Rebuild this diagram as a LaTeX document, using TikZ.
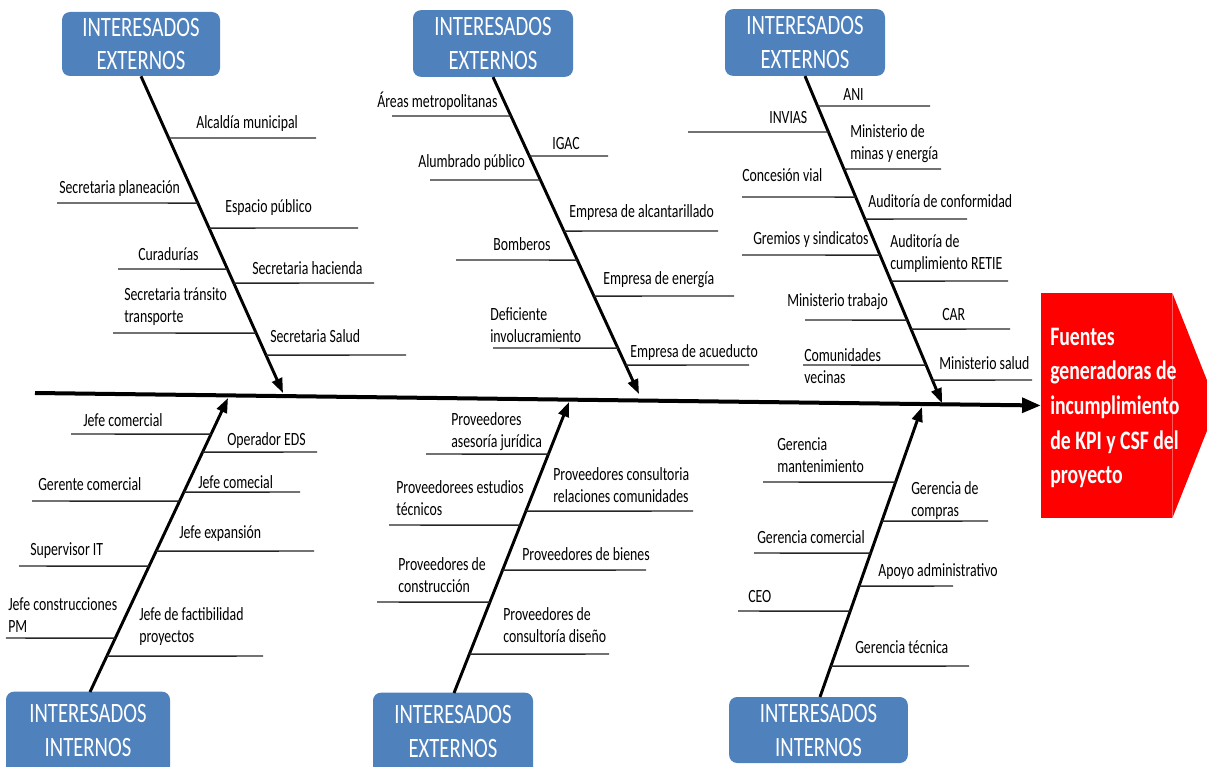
\documentclass[tikz,border=0pt]{standalone}
\usepackage{fontspec}
\setmainfont{Carlito}[FakeStretch=0.74]
\usetikzlibrary{arrows.meta}
\definecolor{boxblue}{HTML}{4F81BD}
\definecolor{headred}{HTML}{FF0000}
\tikzset{
  stake/.style={fill=boxblue, rounded corners=6pt, text=white, align=center,
    font=\fontsize{21}{25}\selectfont, inner sep=0pt},
  spine/.style={line width=3pt, -{Triangle[length=14pt,width=11pt]}},
  bone/.style={line width=2.2pt, -{Triangle[length=11pt,width=8pt]}},
  sub/.style={line width=1.1pt, black!85},
  lab/.style={font=\fontsize{14}{16.5}\selectfont, align=left, inner sep=0pt, anchor=west},
  headtxt/.style={font=\bfseries\fontsize{20}{26}\selectfont, text=white, align=left,
    inner sep=0pt, anchor=west}
}
% sub-bone: #1 = bone start, #2 = bone end, #3 = height, #4 = free end x
\newcommand{\twig}[4]{\draw[sub] (#4,#3) -- (intersection of #1--#2 and 0,#3--1,#3);}
\begin{document}
\begin{tikzpicture}[x=0.75pt, y=-0.75pt]
\useasboundingbox (0,0) rectangle (1207,767);
\clip (0,0) rectangle (1207,767);

% effect box
\node (head) [fill=headred, minimum width=98.25pt, minimum height=168.75pt, inner sep=0pt]
  at (1106.5,405.5) {};
\fill[headred] (head.north east) -- (1217,405.5) -- (head.south east) -- cycle;
\node (headlabel) [headtxt] at (1050,408)
  {Fuentes\\generadoras de\\incumplimiento\\de KPI y CSF del\\proyecto};

% category boxes
\node (tl) [stake, minimum width=118.5pt, minimum height=48pt] at (141,44) {INTERESADOS\\EXTERNOS};
\node (tm) [stake, minimum width=120pt, minimum height=50pt] at (493,43.5) {INTERESADOS\\EXTERNOS};
\node (tr) [stake, minimum width=120pt, minimum height=50pt] at (805,42.5) {INTERESADOS\\EXTERNOS};
\node (bl) [stake, minimum width=123pt, minimum height=62pt, text depth=0pt] at (88,733) {};
\node (bm) [stake, minimum width=120pt, minimum height=62pt] at (453,734) {};
\node (br) [stake, minimum width=134pt, minimum height=49.5pt] at (818.5,730) {};
\node (bltext) [stake, fill=none] at (88,730.5) {INTERESADOS\\INTERNOS};
\node (bmtext) [stake, fill=none] at (453,731.5) {INTERESADOS\\EXTERNOS};
\node (brtext) [stake, fill=none] at (818.5,730.5) {INTERESADOS\\INTERNOS};

% spine
\coordinate (tail) at (35,393);
\draw[spine] (tail) -- (head.west);

% bone ends on the spine
\coordinate (t1) at (283,393);
\coordinate (t2) at (639,394);
\coordinate (t3) at (942,403);
\coordinate (b1) at (228,398);
\coordinate (b2) at (569,402);
\coordinate (b3) at (922,407);
\coordinate (tl0) at (tl.south);
\coordinate (tm0) at (tm.south);
\coordinate (tr0) at (tr.south);
\coordinate (bl0) at (90,692);
\coordinate (bm0) at (454,693);
\coordinate (br0) at (820,697);

\draw[bone] (tl0) -- (t1);
\draw[bone] (tm0) -- (t2);
\draw[bone] (tr0) -- (t3);
\draw[bone] (bl0) -- (b1);
\draw[bone] (bm0) -- (b2);
\draw[bone] (br0) -- (b3);

% upper left branch
\twig{tl0}{t1}{138}{316}
\twig{tl0}{t1}{203}{57}
\twig{tl0}{t1}{228}{358}
\twig{tl0}{t1}{269}{118}
\twig{tl0}{t1}{283}{374}
\twig{tl0}{t1}{333}{113}
\twig{tl0}{t1}{355}{406}
\node[lab] at (196,124) {Alcaldía municipal};
\node[lab] at (59,189) {Secretaria planeación};
\node[lab] at (225,208) {Espacio público};
\node[lab] at (138,254) {Curadurías};
\node[lab] at (252,268) {Secretaria hacienda};
\node[lab] at (124,306.5) {Secretaria tránsito\\transporte};
\node[lab] at (270,336) {Secretaria Salud};

% upper middle branch
\twig{tm0}{t2}{116}{392}
\twig{tm0}{t2}{156}{608}
\twig{tm0}{t2}{180}{430}
\twig{tm0}{t2}{231}{718}
\twig{tm0}{t2}{260}{456}
\twig{tm0}{t2}{296}{734}
\twig{tm0}{t2}{348}{493}
\twig{tm0}{t2}{365}{749}
\node[lab] at (377,101) {Áreas metropolitanas};
\node[lab] at (552,144) {IGAC};
\node[lab] at (418,163) {Alumbrado público};
\node[lab] at (569,213) {Empresa de alcantarillado};
\node[lab] at (493,244) {Bomberos};
\node[lab] at (603,280) {Empresa de energía};
\node[lab] at (490,325) {Deficiente\\involucramiento};
\node[lab] at (630,353) {Empresa de acueducto};

% upper right branch
\twig{tr0}{t3}{106}{930}
\twig{tr0}{t3}{132}{688}
\twig{tr0}{t3}{169}{941}
\twig{tr0}{t3}{197}{742}
\twig{tr0}{t3}{219}{967}
\twig{tr0}{t3}{255}{742}
\twig{tr0}{t3}{281}{1008}
\twig{tr0}{t3}{320}{805}
\twig{tr0}{t3}{329}{1010}
\twig{tr0}{t3}{365}{803}
\twig{tr0}{t3}{380}{1032}
\node[lab] at (843,95) {ANI};
\node[lab] at (769,118) {INVIAS};
\node[lab] at (850,143.5) {Ministerio de\\minas y energía};
\node[lab] at (742,175) {Concesión vial};
\node[lab] at (868,201) {Auditoría de conformidad};
\node[lab] at (753,240) {Gremios y sindicatos};
\node[lab] at (890,253.5) {Auditoría de\\cumplimiento RETIE};
\node[lab] at (787,302) {Ministerio trabajo};
\node[lab] at (942,315) {CAR};
\node[lab] at (804,366.5) {Comunidades\\vecinas};
\node[lab] at (939,363) {Ministerio salud};

% lower left branch
\twig{bl0}{b1}{434}{71}
\twig{bl0}{b1}{452}{317}
\twig{bl0}{b1}{501}{32}
\twig{bl0}{b1}{492}{300}
\twig{bl0}{b1}{566}{19}
\twig{bl0}{b1}{551}{314}
\twig{bl0}{b1}{638}{6}
\twig{bl0}{b1}{656}{263}
\node[lab] at (83,420) {Jefe comercial};
\node[lab] at (227,441) {Operador EDS};
\node[lab] at (38,484) {Gerente comercial};
\node[lab] at (198,482) {Jefe comecial};
\node[lab] at (30,551) {Supervisor IT};
\node[lab] at (179,534) {Jefe expansión};
\node[lab] at (8,615) {Jefe construcciones\\PM};
\node[lab] at (139,627) {Jefe de factibilidad\\proyectos};

% lower middle branch
\twig{bm0}{b2}{454}{426}
\twig{bm0}{b2}{511}{693}
\twig{bm0}{b2}{525}{389}
\twig{bm0}{b2}{570}{646}
\twig{bm0}{b2}{602}{377}
\twig{bm0}{b2}{654}{609}
\node[lab] at (451,432) {Proveedores\\asesoría jurídica};
\node[lab] at (553,485) {Proveedores consultoria\\relaciones comunidades};
\node[lab] at (396,498.5) {Proveedorees estudios\\técnicos};
\node[lab] at (522,554) {Proveedores de bienes};
\node[lab] at (398,575.5) {Proveedores de\\construcción};
\node[lab] at (503,625.5) {Proveedores de\\consultoría diseño};

% lower right branch
\twig{br0}{b3}{482}{763}
\twig{br0}{b3}{521}{988}
\twig{br0}{b3}{553}{754}
\twig{br0}{b3}{586}{953}
\twig{br0}{b3}{611}{738}
\twig{br0}{b3}{666}{969}
\node[lab] at (777,455.5) {Gerencia\\mantenimiento};
\node[lab] at (911,500.5) {Gerencia de\\compras};
\node[lab] at (757,537) {Gerencia comercial};
\node[lab] at (878,572) {Apoyo administrativo};
\node[lab] at (748,597) {CEO};
\node[lab] at (855,647) {Gerencia técnica};
\end{tikzpicture}
\end{document}
